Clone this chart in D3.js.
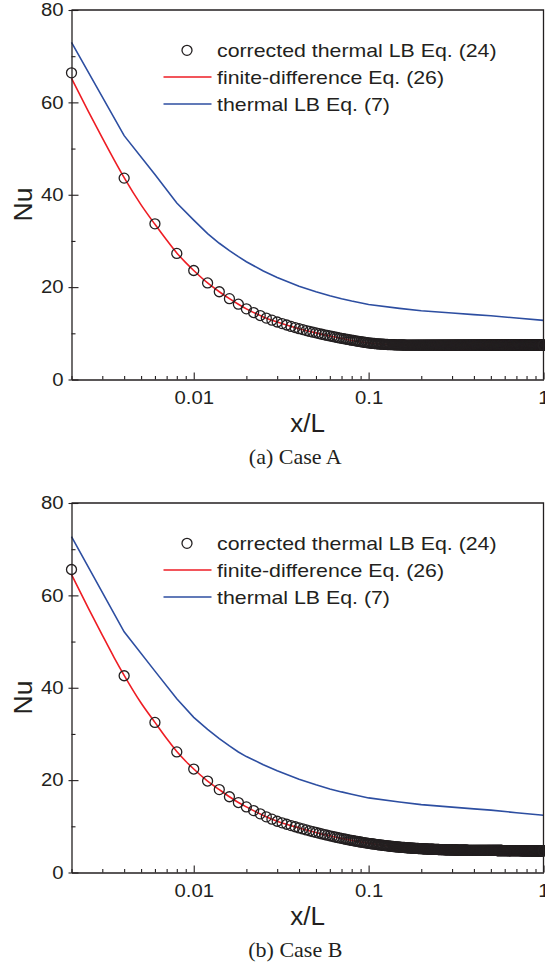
<!DOCTYPE html>
<html>
<head>
<meta charset="utf-8">
<script src="https://cdn.jsdelivr.net/npm/d3@7"></script>
<style>
  body { margin: 0; background: #fff; }
  svg { display: block; }
</style>
</head>
<body>
<svg id="chart" width="545" height="969"></svg>
<script>
// Local Nusselt number along the channel, two cases.
// LB runs are sampled every 0.002 in x/L, 500 samples up to x/L = 1.

const xStep = 0.002;
const nSamples = 500;

// corrected thermal LB Eq. (24), one value per sample
const nuCorrectedA = [
  66.4, 43.6, 33.7, 27.3, 23.6, 20.9, 19.0, 17.5, 16.3, 15.3,
  14.5, 13.85, 13.3, 12.85, 12.45, 12.1, 11.8, 11.5, 11.25, 11.0,
  10.8, 10.6, 10.4, 10.25, 10.1, 9.95, 9.8, 9.67, 9.55, 9.43,
  9.32, 9.21, 9.11, 9.01, 8.92, 8.83, 8.75, 8.67, 8.59, 8.52,
  8.45, 8.38, 8.31, 8.25, 8.19, 8.13, 8.07, 8.02, 7.97, 7.92,
  7.88, 7.85, 7.82, 7.79, 7.76, 7.73, 7.71, 7.69, 7.67, 7.65,
  7.63, 7.61, 7.6, 7.58, 7.57, 7.56, 7.55, 7.54, 7.53, 7.52,
  7.51, 7.5, 7.5, 7.49, 7.49, 7.48, 7.48, 7.47, 7.47, 7.47,
  7.46, 7.46, 7.46, 7.46, 7.46, 7.46, 7.46, 7.46, 7.46, 7.46,
  7.46, 7.46, 7.46, 7.46, 7.46, 7.46, 7.46, 7.46, 7.46, 7.46,
  7.45, 7.45, 7.45, 7.45, 7.45, 7.45, 7.45, 7.45, 7.45, 7.45,
  7.45, 7.45, 7.45, 7.45, 7.45, 7.45, 7.45, 7.45, 7.45, 7.45,
  7.45, 7.45, 7.45, 7.45, 7.45, 7.45, 7.45, 7.45, 7.45, 7.45,
  7.45, 7.45, 7.45, 7.45, 7.45, 7.45, 7.45, 7.45, 7.45, 7.45,
  7.45, 7.45, 7.45, 7.45, 7.45, 7.45, 7.45, 7.45, 7.45, 7.45,
  7.45, 7.45, 7.45, 7.45, 7.45, 7.45, 7.45, 7.45, 7.45, 7.45,
  7.45, 7.45, 7.45, 7.45, 7.45, 7.45, 7.45, 7.45, 7.45, 7.45,
  7.45, 7.45, 7.45, 7.45, 7.45, 7.45, 7.45, 7.45, 7.45, 7.45,
  7.45, 7.45, 7.45, 7.45, 7.45, 7.45, 7.45, 7.45, 7.45, 7.45,
  7.45, 7.45, 7.45, 7.45, 7.45, 7.45, 7.45, 7.45, 7.45, 7.45,
  7.45, 7.45, 7.45, 7.45, 7.45, 7.45, 7.45, 7.45, 7.45, 7.45,
  7.45, 7.45, 7.45, 7.45, 7.45, 7.45, 7.45, 7.45, 7.45, 7.45,
  7.45, 7.45, 7.45, 7.45, 7.45, 7.45, 7.45, 7.45, 7.45, 7.45,
  7.45, 7.45, 7.45, 7.45, 7.45, 7.45, 7.45, 7.45, 7.45, 7.45,
  7.45, 7.45, 7.45, 7.45, 7.45, 7.45, 7.45, 7.45, 7.45, 7.45,
  7.45, 7.45, 7.45, 7.45, 7.45, 7.45, 7.45, 7.45, 7.45, 7.45,
  7.45, 7.45, 7.45, 7.45, 7.45, 7.45, 7.45, 7.45, 7.45, 7.45,
  7.45, 7.45, 7.45, 7.45, 7.45, 7.45, 7.45, 7.45, 7.45, 7.45,
  7.45, 7.45, 7.45, 7.45, 7.45, 7.45, 7.45, 7.45, 7.45, 7.45,
  7.45, 7.45, 7.45, 7.45, 7.45, 7.45, 7.45, 7.45, 7.45, 7.45,
  7.44, 7.44, 7.44, 7.44, 7.44, 7.44, 7.44, 7.44, 7.44, 7.44,
  7.44, 7.44, 7.44, 7.44, 7.44, 7.44, 7.44, 7.44, 7.44, 7.44,
  7.44, 7.44, 7.44, 7.44, 7.44, 7.44, 7.44, 7.44, 7.44, 7.44,
  7.44, 7.44, 7.44, 7.44, 7.44, 7.44, 7.44, 7.44, 7.44, 7.44,
  7.44, 7.44, 7.44, 7.44, 7.44, 7.44, 7.44, 7.44, 7.44, 7.44,
  7.44, 7.44, 7.44, 7.44, 7.44, 7.44, 7.44, 7.44, 7.44, 7.44,
  7.44, 7.44, 7.44, 7.44, 7.44, 7.44, 7.44, 7.44, 7.44, 7.44,
  7.44, 7.44, 7.44, 7.44, 7.44, 7.44, 7.44, 7.44, 7.44, 7.44,
  7.44, 7.44, 7.44, 7.44, 7.44, 7.44, 7.44, 7.44, 7.44, 7.44,
  7.44, 7.44, 7.44, 7.44, 7.44, 7.44, 7.44, 7.44, 7.44, 7.44,
  7.44, 7.44, 7.44, 7.44, 7.44, 7.44, 7.44, 7.44, 7.44, 7.44,
  7.44, 7.44, 7.44, 7.44, 7.44, 7.44, 7.44, 7.44, 7.44, 7.44,
  7.44, 7.44, 7.44, 7.44, 7.44, 7.44, 7.44, 7.44, 7.44, 7.44,
  7.44, 7.44, 7.44, 7.44, 7.44, 7.44, 7.44, 7.44, 7.44, 7.44,
  7.44, 7.44, 7.44, 7.44, 7.44, 7.44, 7.44, 7.44, 7.44, 7.44,
  7.44, 7.44, 7.44, 7.44, 7.44, 7.44, 7.44, 7.44, 7.44, 7.44,
  7.44, 7.44, 7.44, 7.44, 7.44, 7.44, 7.44, 7.44, 7.44, 7.44,
  7.44, 7.44, 7.44, 7.44, 7.44, 7.44, 7.44, 7.44, 7.44, 7.44,
  7.44, 7.44, 7.44, 7.44, 7.44, 7.44, 7.44, 7.44, 7.44, 7.44,
  7.44, 7.44, 7.44, 7.44, 7.44, 7.44, 7.44, 7.44, 7.44, 7.44
];

const nuCorrectedB = [
  65.6, 42.6, 32.5, 26.1, 22.4, 19.8, 17.95, 16.4, 15.15, 14.2,
  13.4, 12.7, 12.05, 11.55, 11.1, 10.75, 10.45, 10.15, 9.9, 9.65,
  9.43, 9.22, 9.02, 8.84, 8.67, 8.51, 8.36, 8.22, 8.08, 7.95,
  7.83, 7.71, 7.6, 7.49, 7.39, 7.29, 7.2, 7.11, 7.03, 6.95,
  6.87, 6.8, 6.73, 6.66, 6.6, 6.54, 6.48, 6.42, 6.37, 6.32,
  6.27, 6.22, 6.18, 6.13, 6.09, 6.05, 6.01, 5.97, 5.93, 5.9,
  5.86, 5.83, 5.8, 5.77, 5.74, 5.71, 5.68, 5.66, 5.63, 5.61,
  5.58, 5.56, 5.54, 5.52, 5.5, 5.48, 5.46, 5.44, 5.42, 5.41,
  5.39, 5.37, 5.36, 5.34, 5.33, 5.31, 5.3, 5.29, 5.27, 5.26,
  5.25, 5.24, 5.23, 5.22, 5.21, 5.2, 5.19, 5.18, 5.17, 5.16,
  5.15, 5.14, 5.13, 5.12, 5.11, 5.1, 5.1, 5.09, 5.08, 5.07,
  5.07, 5.06, 5.05, 5.05, 5.04, 5.03, 5.03, 5.02, 5.02, 5.01,
  5.0, 5.0, 4.99, 4.99, 4.98, 4.98, 4.97, 4.97, 4.97, 4.96,
  4.96, 4.95, 4.95, 4.95, 4.94, 4.94, 4.93, 4.93, 4.93, 4.92,
  4.92, 4.92, 4.91, 4.91, 4.91, 4.9, 4.9, 4.9, 4.89, 4.89,
  4.89, 4.89, 4.88, 4.88, 4.88, 4.87, 4.87, 4.87, 4.87, 4.86,
  4.86, 4.86, 4.86, 4.85, 4.85, 4.85, 4.85, 4.84, 4.84, 4.84,
  4.84, 4.84, 4.83, 4.83, 4.83, 4.83, 4.83, 4.82, 4.82, 4.82,
  4.82, 4.82, 4.82, 4.81, 4.81, 4.81, 4.81, 4.81, 4.81, 4.8,
  4.8, 4.8, 4.8, 4.8, 4.8, 4.8, 4.8, 4.8, 4.8, 4.8,
  4.8, 4.8, 4.8, 4.8, 4.8, 4.8, 4.8, 4.8, 4.8, 4.8,
  4.79, 4.79, 4.79, 4.79, 4.79, 4.79, 4.79, 4.79, 4.79, 4.79,
  4.79, 4.79, 4.79, 4.79, 4.79, 4.79, 4.79, 4.79, 4.79, 4.79,
  4.78, 4.78, 4.78, 4.78, 4.78, 4.78, 4.78, 4.78, 4.78, 4.78,
  4.78, 4.78, 4.78, 4.78, 4.78, 4.78, 4.78, 4.78, 4.78, 4.78,
  4.77, 4.77, 4.77, 4.77, 4.77, 4.77, 4.77, 4.77, 4.77, 4.77,
  4.77, 4.77, 4.77, 4.77, 4.77, 4.77, 4.77, 4.77, 4.77, 4.77,
  4.76, 4.76, 4.76, 4.76, 4.76, 4.76, 4.76, 4.76, 4.76, 4.76,
  4.76, 4.76, 4.76, 4.76, 4.76, 4.76, 4.76, 4.76, 4.76, 4.76,
  4.75, 4.75, 4.75, 4.75, 4.75, 4.75, 4.75, 4.75, 4.75, 4.75,
  4.75, 4.75, 4.75, 4.75, 4.75, 4.75, 4.75, 4.75, 4.75, 4.75,
  4.75, 4.75, 4.75, 4.75, 4.75, 4.75, 4.75, 4.75, 4.75, 4.75,
  4.74, 4.74, 4.74, 4.74, 4.74, 4.74, 4.74, 4.74, 4.74, 4.74,
  4.74, 4.74, 4.74, 4.74, 4.74, 4.74, 4.74, 4.74, 4.74, 4.74,
  4.74, 4.74, 4.74, 4.74, 4.74, 4.74, 4.74, 4.74, 4.74, 4.74,
  4.74, 4.74, 4.74, 4.74, 4.74, 4.74, 4.74, 4.74, 4.74, 4.74,
  4.74, 4.74, 4.74, 4.74, 4.74, 4.74, 4.74, 4.74, 4.74, 4.74,
  4.73, 4.73, 4.73, 4.73, 4.73, 4.73, 4.73, 4.73, 4.73, 4.73,
  4.73, 4.73, 4.73, 4.73, 4.73, 4.73, 4.73, 4.73, 4.73, 4.73,
  4.73, 4.73, 4.73, 4.73, 4.73, 4.73, 4.73, 4.73, 4.73, 4.73,
  4.73, 4.73, 4.73, 4.73, 4.73, 4.73, 4.73, 4.73, 4.73, 4.73,
  4.73, 4.73, 4.73, 4.73, 4.73, 4.73, 4.73, 4.73, 4.73, 4.73,
  4.73, 4.73, 4.73, 4.73, 4.73, 4.73, 4.73, 4.73, 4.73, 4.73,
  4.72, 4.72, 4.72, 4.72, 4.72, 4.72, 4.72, 4.72, 4.72, 4.72,
  4.72, 4.72, 4.72, 4.72, 4.72, 4.72, 4.72, 4.72, 4.72, 4.72,
  4.72, 4.72, 4.72, 4.72, 4.72, 4.72, 4.72, 4.72, 4.72, 4.72,
  4.72, 4.72, 4.72, 4.72, 4.72, 4.72, 4.72, 4.72, 4.72, 4.72,
  4.72, 4.72, 4.72, 4.72, 4.72, 4.72, 4.72, 4.72, 4.72, 4.72,
  4.72, 4.72, 4.72, 4.72, 4.72, 4.72, 4.72, 4.72, 4.72, 4.72,
  4.72, 4.72, 4.72, 4.72, 4.72, 4.72, 4.72, 4.72, 4.72, 4.72
];

// finite-difference Eq. (26): [x/L, Nu]
const finiteDiffA = [
  [0.002, 65.2], [0.0025, 58.0], [0.003, 52.3], [0.0035, 47.6], [0.004, 43.7],
  [0.005, 37.8], [0.006, 33.6], [0.007, 30.2], [0.008, 27.4], [0.009, 25.3],
  [0.01, 23.6], [0.012, 20.9], [0.014, 19.0], [0.016, 17.5], [0.018, 16.3],
  [0.02, 15.3], [0.025, 13.55], [0.03, 12.45], [0.04, 11.0], [0.05, 10.1],
  [0.06, 9.43], [0.07, 8.92], [0.08, 8.45], [0.1, 7.92], [0.15, 7.5],
  [0.2, 7.46], [0.5, 7.45], [1, 7.44]
];
const finiteDiffB = [
  [0.002, 64.5], [0.0025, 57.2], [0.003, 51.4], [0.0035, 46.6], [0.004, 42.7],
  [0.005, 36.7], [0.006, 32.5], [0.007, 29.0], [0.008, 26.2], [0.009, 24.1],
  [0.01, 22.4], [0.012, 19.8], [0.014, 17.95], [0.016, 16.4], [0.018, 15.15],
  [0.02, 14.2], [0.025, 12.35], [0.03, 11.1], [0.04, 9.65], [0.05, 8.67],
  [0.06, 7.95], [0.07, 7.39], [0.08, 6.95], [0.1, 6.32], [0.15, 5.5],
  [0.2, 5.16], [0.3, 4.89], [0.5, 4.78], [1, 4.72]
];

// thermal LB Eq. (7): [x/L, Nu]
const thermalLbA = [
  [0.002, 73.0], [0.004, 52.8], [0.006, 44.4], [0.008, 38.2], [0.01, 34.5],
  [0.012, 31.6], [0.014, 29.5], [0.016, 27.9], [0.018, 26.6], [0.02, 25.5],
  [0.025, 23.5], [0.03, 22.1], [0.04, 20.2], [0.05, 19.0], [0.06, 18.15],
  [0.07, 17.5], [0.08, 17.0], [0.1, 16.25], [0.15, 15.4], [0.2, 14.9],
  [0.3, 14.4], [0.4, 14.05], [0.5, 13.8], [0.7, 13.3], [1, 12.8]
];
const thermalLbB = [
  [0.002, 72.7], [0.004, 52.1], [0.006, 43.6], [0.008, 37.6], [0.01, 33.6],
  [0.012, 31.0], [0.014, 29.0], [0.016, 27.4], [0.018, 26.1], [0.02, 25.1],
  [0.025, 23.35], [0.03, 22.05], [0.04, 20.2], [0.05, 19.0], [0.06, 18.1],
  [0.07, 17.45], [0.08, 16.95], [0.1, 16.15], [0.15, 15.25], [0.2, 14.7],
  [0.3, 14.15], [0.4, 13.78], [0.5, 13.5], [0.7, 12.95], [1, 12.4]
];

const yTicks = [0, 20, 40, 60, 80];
const yMinorTicks = [10, 30, 50, 70];
const xTicks = [0.01, 0.1, 1];
const xTickLabels = ["0.01", "0.1", "1"];
const xMinorTicks = [0.002, 0.003, 0.004, 0.005, 0.006, 0.007, 0.008, 0.009,
  0.02, 0.03, 0.04, 0.05, 0.06, 0.07, 0.08, 0.09,
  0.2, 0.3, 0.4, 0.5, 0.6, 0.7, 0.8, 0.9];
const legendLabels = ["corrected thermal LB Eq. (24)", "finite-difference Eq. (26)", "thermal LB Eq. (7)"];
const captions = ["(a) Case A", "(b) Case B"];

// ------------------------------------------------------------------

const svg = d3.select("#chart");
const INK = "#231f20";
const RED = "#ee1d24";
const BLUE = "#2d4ea1";
const SANS = "'Liberation Sans', Arial, sans-serif";
const SERIF = "'Liberation Serif', 'Times New Roman', serif";

const xSamples = d3.range(1, nSamples + 1).map(k => +(k * xStep).toFixed(3));
const x = d3.scaleLog().domain([0.002, 1]).range([71.5, 543.5]);

function drawPanel(top, nuCorrected, fdPts, lbPts, caption) {
    const y = d3.scaleLinear().domain([0, 80]).range([top + 369.5, top]);
    const g = svg.append("g");
    const x0 = x.range()[0], x1 = x.range()[1];
    const yBottom = y(0);

    const line = d3.line().x(d => x(d[0])).y(d => y(d[1]));

    g.append("path")
        .datum(lbPts)
        .attr("d", line)
        .attr("fill", "none")
        .attr("stroke", BLUE)
        .attr("stroke-width", 1.6);

    g.append("path")
        .datum(fdPts)
        .attr("d", line.curve(d3.curveMonotoneX))
        .attr("fill", "none")
        .attr("stroke", RED)
        .attr("stroke-width", 1.6);

    const pts = xSamples.map((v, i) => [v, nuCorrected[i]]).filter(d => d[1] != null);
    g.append("g")
        .selectAll("circle")
        .data(pts)
        .join("circle")
        .attr("cx", d => x(d[0]))
        .attr("cy", d => y(d[1]))
        .attr("r", 5)
        .attr("fill", "none")
        .attr("stroke", INK)
        .attr("stroke-width", 1.3);

    /* axes ---------------------------------------------------------- */

    const tickSX = 1.13;

    const yAxis = g.append("g")
        .attr("transform", `translate(${x0},0)`)
        .call(d3.axisLeft(y).tickValues(yTicks).tickSize(3).tickSizeOuter(0).tickPadding(5));
    yAxis.selectAll(".tick line").attr("x1", 7);
    yAxis.selectAll(".tick text")
        .attr("x", -8 / tickSX)
        .attr("transform", `scale(${tickSX},1)`);

    g.append("g")
        .attr("transform", `translate(${x0},0)`)
        .call(d3.axisLeft(y).tickValues(yMinorTicks).tickSize(-4).tickFormat(""))
        .call(a => a.select(".domain").remove());

    g.append("g")
        .attr("transform", `translate(0,${yBottom})`)
        .call(d3.axisBottom(x).tickValues(xTicks)
            .tickFormat((d, i) => xTickLabels[i])
            .tickSize(-7).tickSizeOuter(0).tickPadding(12))
        .selectAll(".tick text")
        .attr("transform", `scale(${tickSX},1)`);

    g.append("g")
        .attr("transform", `translate(0,${yBottom})`)
        .call(d3.axisBottom(x).tickValues(xMinorTicks).tickSize(-3.5).tickFormat(""))
        .call(a => a.select(".domain").remove());

    g.selectAll(".domain").attr("stroke", INK).attr("stroke-width", 1.3);
    g.selectAll(".tick line").attr("stroke", INK).attr("stroke-width", 1.1);
    g.selectAll(".tick text")
        .attr("fill", INK)
        .style("font-family", SANS)
        .style("font-size", "18px");

    // frame: top and right
    g.append("path")
        .attr("d", `M${x0},${top}H${x1}V${yBottom}`)
        .attr("fill", "none")
        .attr("stroke", INK)
        .attr("stroke-width", 1.3);

    /* titles -------------------------------------------------------- */

    g.append("text")
        .attr("x", (x0 + x1) / 2)
        .attr("y", yBottom + 52.5)
        .attr("text-anchor", "middle")
        .attr("fill", INK)
        .style("font-family", SANS)
        .style("font-size", "26px")
        .text("x/L");

    g.append("text")
        .attr("transform", `translate(31.7,${top + 194.5}) rotate(-90)`)
        .attr("text-anchor", "middle")
        .attr("fill", INK)
        .style("font-family", SANS)
        .style("font-size", "26.5px")
        .text("Nu");

    g.append("text")
        .attr("x", 295.3)
        .attr("y", yBottom + 84.5)
        .attr("text-anchor", "middle")
        .attr("fill", INK)
        .style("font-family", SERIF)
        .style("font-size", "22px")
        .text(caption);

    /* legend -------------------------------------------------------- */

    const rowY = [top + 40.3, top + 67, top + 94];
    const lg = g.append("g");
    lg.append("circle")
        .attr("cx", 187).attr("cy", rowY[0]).attr("r", 5)
        .attr("fill", "none").attr("stroke", INK).attr("stroke-width", 1.3);
    lg.append("line")
        .attr("x1", 163.5).attr("x2", 211.5).attr("y1", rowY[1]).attr("y2", rowY[1])
        .attr("stroke", RED).attr("stroke-width", 1.6);
    lg.append("line")
        .attr("x1", 163.5).attr("x2", 211.5).attr("y1", rowY[2]).attr("y2", rowY[2])
        .attr("stroke", BLUE).attr("stroke-width", 1.6);
    legendLabels.forEach((t, i) => {
        lg.append("text")
            .attr("transform", `translate(217,${rowY[i] + 6.6}) scale(1.185,1)`)
            .attr("fill", INK)
            .style("font-family", SANS)
            .style("font-size", "18px")
            .text(t);
    });
}

drawPanel(10, nuCorrectedA, finiteDiffA, thermalLbA, captions[0]);
drawPanel(503, nuCorrectedB, finiteDiffB, thermalLbB, captions[1]);
</script>
</body>
</html>
